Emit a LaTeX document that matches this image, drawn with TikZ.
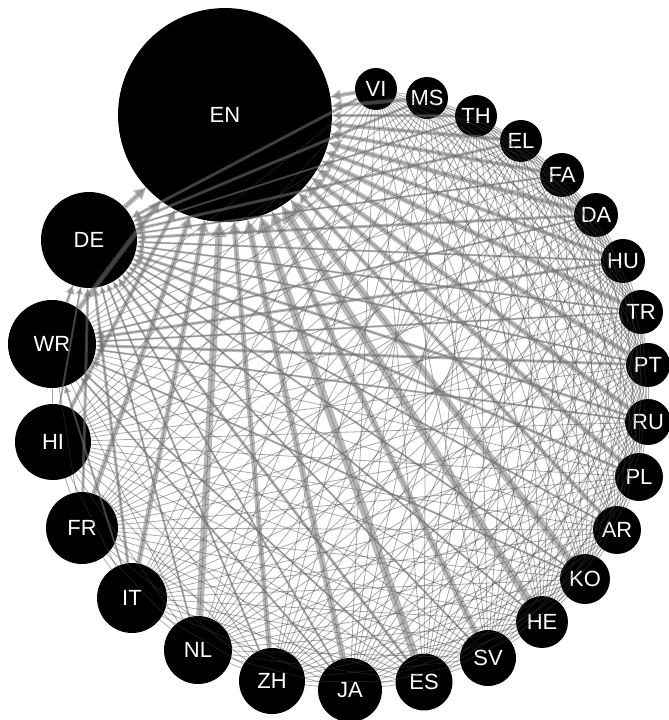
\documentclass[tikz,border=0pt]{standalone}
\usepackage{fontspec}
\setmainfont{Liberation Sans}
\usepackage{tikz}
\usetikzlibrary{arrows.meta}

\begin{document}
\begin{tikzpicture}[
        x=0.02cm, y=-0.02cm,
        lang/.style={circle, fill=black, text=white, inner sep=0pt, minimum size=#1*0.04cm, font=\fontsize{12.5}{14}\selectfont},
        thinlink/.style={draw=black!75, opacity=0.45, line width=0.8*0.02cm},
        flow/.style={draw=black!55, opacity=0.5, line width=#1*0.02cm, -{Triangle[length=2pt 1.6, width=2pt 1.7]}}
    ]
        \useasboundingbox (0,0) rectangle (669,720);
        \node[lang=107] (EN) at (225,115) {EN};
        \node[lang=21] (VI) at (376,89) {VI};
        \node[lang=21] (MS) at (427,98) {MS};
        \node[lang=21] (TH) at (476,116) {TH};
        \node[lang=21] (EL) at (521,141) {EL};
        \node[lang=22] (FA) at (562,175) {FA};
        \node[lang=22] (DA) at (596,215) {DA};
        \node[lang=22] (HU) at (623,261) {HU};
        \node[lang=22] (TR) at (641,312) {TR};
        \node[lang=22] (PT) at (648,365) {PT};
        \node[lang=23] (RU) at (648,422) {RU};
        \node[lang=24] (PL) at (639,477) {PL};
        \node[lang=24] (AR) at (617,530) {AR};
        \node[lang=25] (KO) at (585,579) {KO};
        \node[lang=26] (HE) at (542,622) {HE};
        \node[lang=28] (SV) at (488,658) {SV};
        \node[lang=28.5] (ES) at (424,682) {ES};
        \node[lang=32] (JA) at (350,690) {JA};
        \node[lang=33] (ZH) at (272,681) {ZH};
        \node[lang=34] (NL) at (198,650) {NL};
        \node[lang=35] (IT) at (132,598) {IT};
        \node[lang=36] (FR) at (82,528) {FR};
        \node[lang=38] (HI) at (53,442) {HI};
        \node[lang=44] (WR) at (52,344) {WR};
        \node[lang=48] (DE) at (89,240) {DE};

        \foreach \a [count=\i] in {EN,VI,MS,TH,EL,FA,DA,HU,TR,PT,RU,PL,AR,KO,HE,SV,ES,JA,ZH,NL,IT,FR,HI,WR,DE}
            \foreach \b [count=\j] in {EN,VI,MS,TH,EL,FA,DA,HU,TR,PT,RU,PL,AR,KO,HE,SV,ES,JA,ZH,NL,IT,FR,HI,WR,DE}
                {\ifnum\j>\i \draw[thinlink] (\a) -- (\b); \fi}

        \foreach \a/\w in {VI/3,MS/3,TH/2,EL/3,FA/2,DA/3,HU/2,TR/2,PT/2,RU/3,PL/3,AR/2,KO/2,HE/2,SV/2,ES/3,JA/2,ZH/2,NL/2,IT/3,FR/3,HI/2,WR/3}
            \draw[flow=\w] (\a) -- (DE);
        \foreach \a/\w in {DA/2,HU/3,TR/2,PT/3,RU/2,ES/2,JA/2,KO/2,IT/2}
            \draw[flow=\w] (\a) -- (WR);
        \foreach \a/\w in {VI/4,MS/4,TH/3,EL/4,FA/4,DA/5,HU/4,TR/5,PT/5,RU/5,PL/5,AR/4,KO/7,HE/8,SV/6,ES/8,JA/6,ZH/5,NL/7,IT/5,FR/5,HI/4,WR/5,DE/5}
            \draw[flow=\w] (\a) -- (EN);
    \end{tikzpicture}
\end{document}
